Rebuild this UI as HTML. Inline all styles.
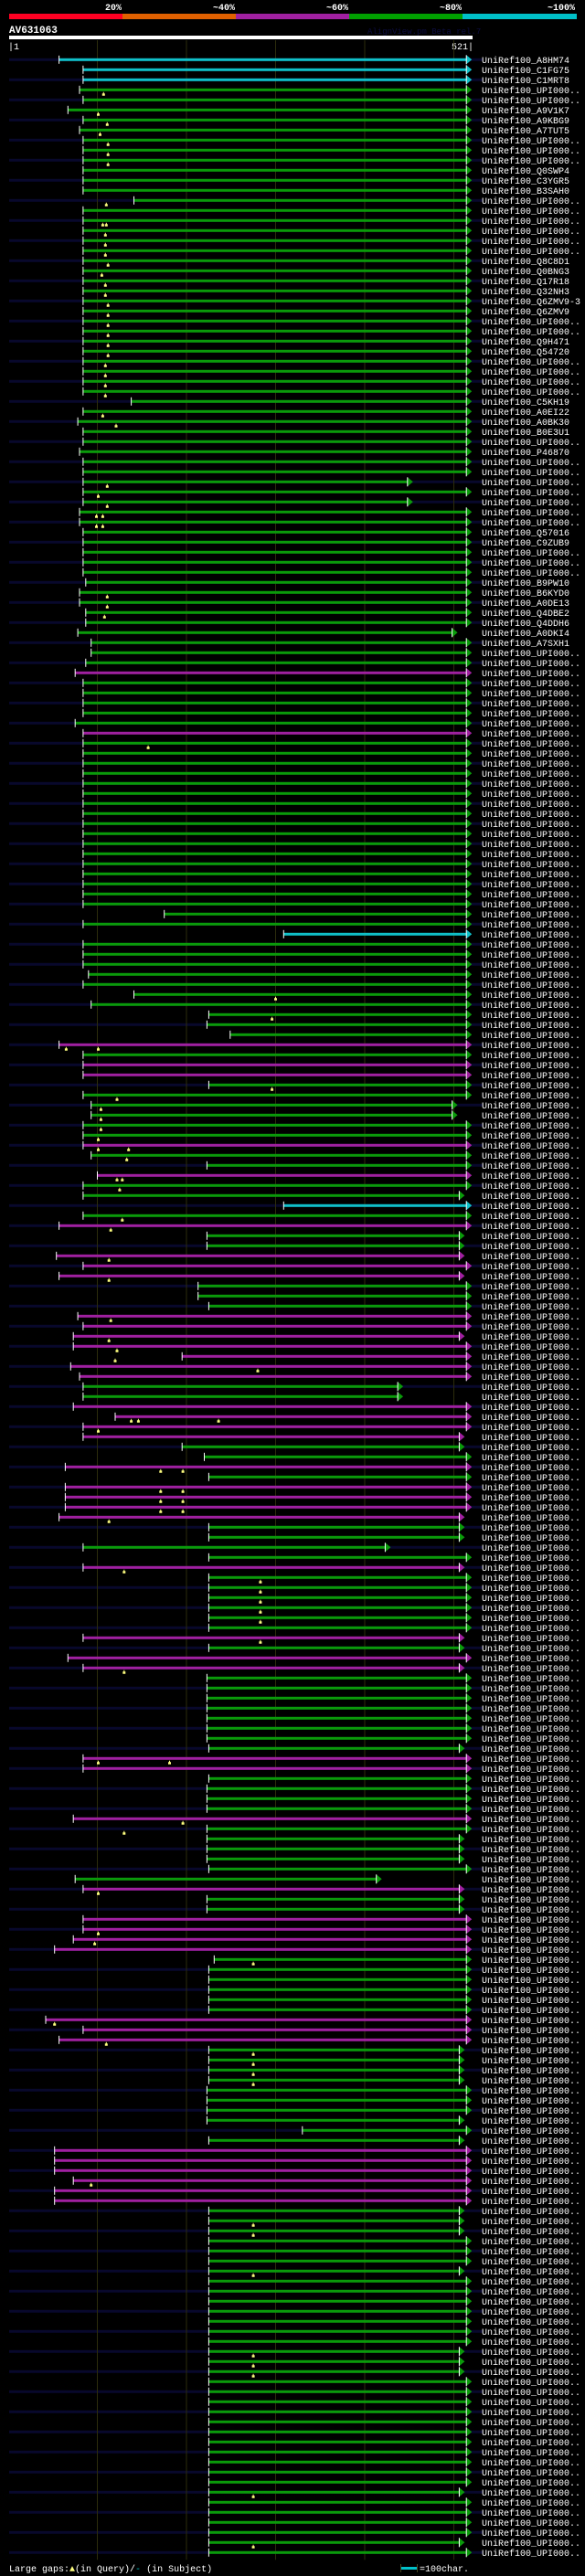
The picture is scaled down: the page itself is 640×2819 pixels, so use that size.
<!DOCTYPE html>
<html><head><meta charset="utf-8"><title>AV631063 alignment overview</title>
<style>
html,body{margin:0;padding:0;background:#000;}
svg{display:block;}
text{font-family:"Liberation Mono",monospace;}
</style></head>
<body>
<svg id="chart" width="640" height="2819" viewBox="0 0 640 2819" xmlns="http://www.w3.org/2000/svg">
<rect x="0" y="0" width="640" height="2819" fill="#000"/>
<g>
<rect x="10" y="15" width="124" height="6" fill="#ff0022"/>
<rect x="134" y="15" width="124" height="6" fill="#e06000"/>
<rect x="258" y="15" width="124" height="6" fill="#a020a0"/>
<rect x="382" y="15" width="124" height="6" fill="#00a000"/>
<rect x="506" y="15" width="125" height="6" fill="#00c0c8"/>
<g fill="#fff" font-size="10" font-weight="bold" text-anchor="end">
<text x="133" y="11">20%</text>
<text x="257" y="11">~40%</text>
<text x="381" y="11">~60%</text>
<text x="505" y="11">~80%</text>
<text x="629" y="11">~100%</text>
</g></g>
<text x="10" y="36" fill="#fff" font-size="11" font-weight="bold">AV631063</text>
<text x="402" y="37" fill="#0c0c40" font-size="9">AlignView.pm Beta rel.7</text>
<rect x="10" y="39" width="507" height="4" fill="#fff"/>
<text x="9" y="54" fill="#fff" font-size="10">|1</text>
<text x="518" y="54" fill="#fff" font-size="10" text-anchor="end">521|</text>
<g id="grid"></g>
<g id="rows"></g>
<g>
<text x="10" y="2814" fill="#fff" font-size="10">Large gaps:<tspan fill="#ffff80">▲</tspan>(in Query)/<tspan fill="#00c0c8">-</tspan> (in Subject)</text>
<rect x="439" y="2809" width="17" height="3" fill="#00c0c8"/>
<rect x="438" y="2806" width="1" height="9" fill="#444420"/>
<rect x="456" y="2806" width="1" height="9" fill="#444420"/>
<text x="459" y="2814" fill="#fff" font-size="10">=100char.</text>
</g>
</svg>
<script>
// ---- data ----
const queryLength = 521;
const gridTicks = [100, 200, 300, 400, 500];
const hitStarts = [
57,84,84,80,84,67,84,80,84,84,
84,84,84,84,141,84,84,84,84,84,
84,84,84,84,84,84,84,84,84,84,
84,84,84,84,138,84,78,84,84,80,
84,84,84,84,84,80,80,84,84,84,
84,84,87,80,80,87,87,78,93,93,
87,75,84,84,84,84,75,84,84,84,
84,84,84,84,84,84,84,84,84,84,
84,84,84,84,84,175,84,309,84,84,
84,90,84,141,93,225,223,249,57,84,
84,84,225,84,93,93,84,84,84,93,
223,100,84,84,309,84,57,223,223,54,
84,57,213,213,225,78,84,73,73,195,
70,80,84,84,73,120,84,84,195,220,
64,225,64,64,64,57,225,225,84,225,
84,225,225,225,225,225,225,84,225,67,
84,223,223,223,223,223,223,223,225,84,
84,225,223,223,223,73,223,223,223,223,
225,75,84,223,223,84,84,73,52,231,
225,225,225,225,225,42,84,57,225,225,
225,225,223,223,223,223,330,225,52,52,
52,73,52,52,225,225,225,225,225,225,
225,225,225,225,225,225,225,225,225,225,
225,225,225,225,225,225,225,225,225,225,
225,225,225,225,225,225,225,225,225];
const defaultEnd = 514;
const shortEndRows = [42,44,57,104,105,113,117,118,119,121,127,132,133,137,138,145,146,147,148,150,157,158,160,168,177,178,179,181,182,183,184,198,199,200,201,205,207,214,215,216,220,228,229,230,242,247];
const shortEndValues = [448,448,498,498,498,506,506,506,506,506,506,437,437,506,506,506,506,506,423,506,506,506,506,506,506,506,506,413,506,506,506,506,506,506,506,506,506,506,506,506,506,506,506,506,506,506];
const cyanRows = [0,1,2,87,114];
const magentaRows = [61,67,98,100,101,108,111,116,119,120,121,125,126,127,128,129,130,131,134,135,136,137,140,142,143,144,145,150,157,159,160,169,170,175,182,185,186,187,188,195,196,197,208,209,210,211,212,213];
const gapRows = [3,5,6,7,8,9,10,14,16,16,17,18,19,20,21,22,23,24,25,26,27,28,29,30,31,32,33,35,36,42,43,44,45,45,46,46,53,54,55,68,93,95,98,98,102,103,104,105,106,107,108,108,109,111,111,112,115,116,119,121,125,127,128,129,130,135,135,135,136,140,140,142,142,143,143,144,144,145,150,151,152,153,154,155,157,160,169,169,175,176,182,186,187,189,195,197,198,199,200,201,211,215,216,220,228,229,230,242,247];
const gapPos = [107,101,111,103,112,112,112,110,106,110,109,109,109,112,105,109,109,112,112,112,112,112,112,109,109,109,109,106,121,111,101,111,99,106,99,106,111,111,108,157,300,296,65,101,296,122,104,104,104,101,101,135,133,122,128,125,128,115,113,113,115,113,122,120,280,138,146,236,101,171,196,171,196,171,196,171,196,113,130,283,283,283,283,283,283,130,101,181,196,130,101,101,97,275,52,110,275,275,275,275,93,275,275,275,275,275,275,275,275];
const hitLabels = ["A8HM74","C1FG75","C1MRT8","UPI000..","UPI000..","A9V1K7","A9KBG9","A7TUT5","UPI000..","UPI000..","UPI000..","Q0SWP4","C3YGR5","B3SAH0","UPI000..","UPI000..","UPI000..","UPI000..","UPI000..","UPI000..","Q8C8D1","Q0BNG3","Q17R18","Q32NH3","Q6ZMV9-3","Q6ZMV9","UPI000..","UPI000..","Q9H471","Q54720","UPI000..","UPI000..","UPI000..","UPI000..","C5KH19","A0EI22","A0BK30","B0E3U1","UPI000..","P46870","UPI000..","UPI000..","UPI000..","UPI000..","UPI000..","UPI000..","UPI000..","Q57016","C9ZUB9","UPI000..","UPI000..","UPI000..","B9PW10","B6KYD0","A0DE13","Q4DBE2","Q4DDH6","A0DKI4","A7SXH1","UPI000.."];

// ---- axes ----
const X0 = 10, X1 = 517;
function xScale(r){ return X0 + (r - 1) * (X1 - X0) / (queryLength - 1); }
const ROW0 = 65.3, ROWH = 11;
function yRow(i){ return ROW0 + i * ROWH; }

const NS = "http://www.w3.org/2000/svg";
function mk(tag, attrs){ const e = document.createElementNS(NS, tag); for (const k in attrs) e.setAttribute(k, attrs[k]); return e; }

const nRows = hitStarts.length;
const grid = document.getElementById('grid');
const rowsG = document.getElementById('rows');

// navy stripes on alternate rows (behind grid)
for (let i = 0; i < nRows; i += 2) {
  const s = mk('rect', {x: X0, y: (yRow(i) - 1.5).toFixed(1), width: 518, height: 3, fill: '#08082c'});
  
  
  grid.appendChild(s);
}
gridTicks.forEach(t => {
  const l = mk('rect', {x: xScale(t).toFixed(1) - 0.5, y: 44, width: 1, height: yRow(nRows - 1) + 8 - 44, fill: '#2c2c0c'});
  
  
  grid.appendChild(l);
});

const COLORS = {g: '#0a9a0a', c: '#10c0c8', m: '#a020a0'};
for (let i = 0; i < nRows; i++) {
  const y = yRow(i);
  let col = 'g';
  if (cyanRows.indexOf(i) >= 0) col = 'c';
  if (magentaRows.indexOf(i) >= 0) col = 'm';
  const k = shortEndRows.indexOf(i);
  const end = k >= 0 ? shortEndValues[k] : defaultEnd;
  const xs = xScale(hitStarts[i]), xe = xScale(end);
  const g = mk('g', {});
  
  
  const bar = mk('rect', {x: xs.toFixed(1), y: (y - 1.5).toFixed(1), width: (xe - xs).toFixed(1), height: 3, fill: COLORS[col]});
  
  
  g.appendChild(bar);
  const tick = mk('rect', {x: (xs - 0.5).toFixed(1), y: (y - 4.5).toFixed(1), width: 1, height: 9, fill: '#fff'});
  
  
  g.appendChild(tick);
  const arr = mk('polygon', {points: `${xe.toFixed(1)},${(y-5).toFixed(1)} ${(xe+6).toFixed(1)},${y.toFixed(1)} ${xe.toFixed(1)},${(y+5).toFixed(1)}`, fill: COLORS[col]});
  
  
  g.appendChild(arr);
  const ae = mk('rect', {x: (xe - 0.5).toFixed(1), y: (y - 5).toFixed(1), width: 1, height: 10, fill: '#fff'});
  
  
  g.appendChild(ae);
  const lbl = mk('text', {x: 527, y: (y + 3.5).toFixed(1), fill: '#fff', 'font-size': 10});
  lbl.textContent = 'UniRef100_' + (hitLabels[i] || 'UPI000..');
  
  
  g.appendChild(lbl);
  rowsG.appendChild(g);
}
for (let j = 0; j < gapRows.length; j++) {
  const y = yRow(gapRows[j]);
  const x = xScale(gapPos[j]);
  const m = mk('polygon', {points: `${(x-1.5).toFixed(1)},${(y+6.5).toFixed(1)} ${(x+1.5).toFixed(1)},${(y+6.5).toFixed(1)} ${(x+1.5).toFixed(1)},${(y+4).toFixed(1)} ${(x+0.5).toFixed(1)},${(y+4).toFixed(1)} ${(x+0.5).toFixed(1)},${(y+2.5).toFixed(1)} ${(x-0.5).toFixed(1)},${(y+2.5).toFixed(1)} ${(x-0.5).toFixed(1)},${(y+4).toFixed(1)} ${(x-1.5).toFixed(1)},${(y+4).toFixed(1)}`, fill: '#ffff80'});
  
  
  rowsG.appendChild(m);
}
</script>
</body></html>
